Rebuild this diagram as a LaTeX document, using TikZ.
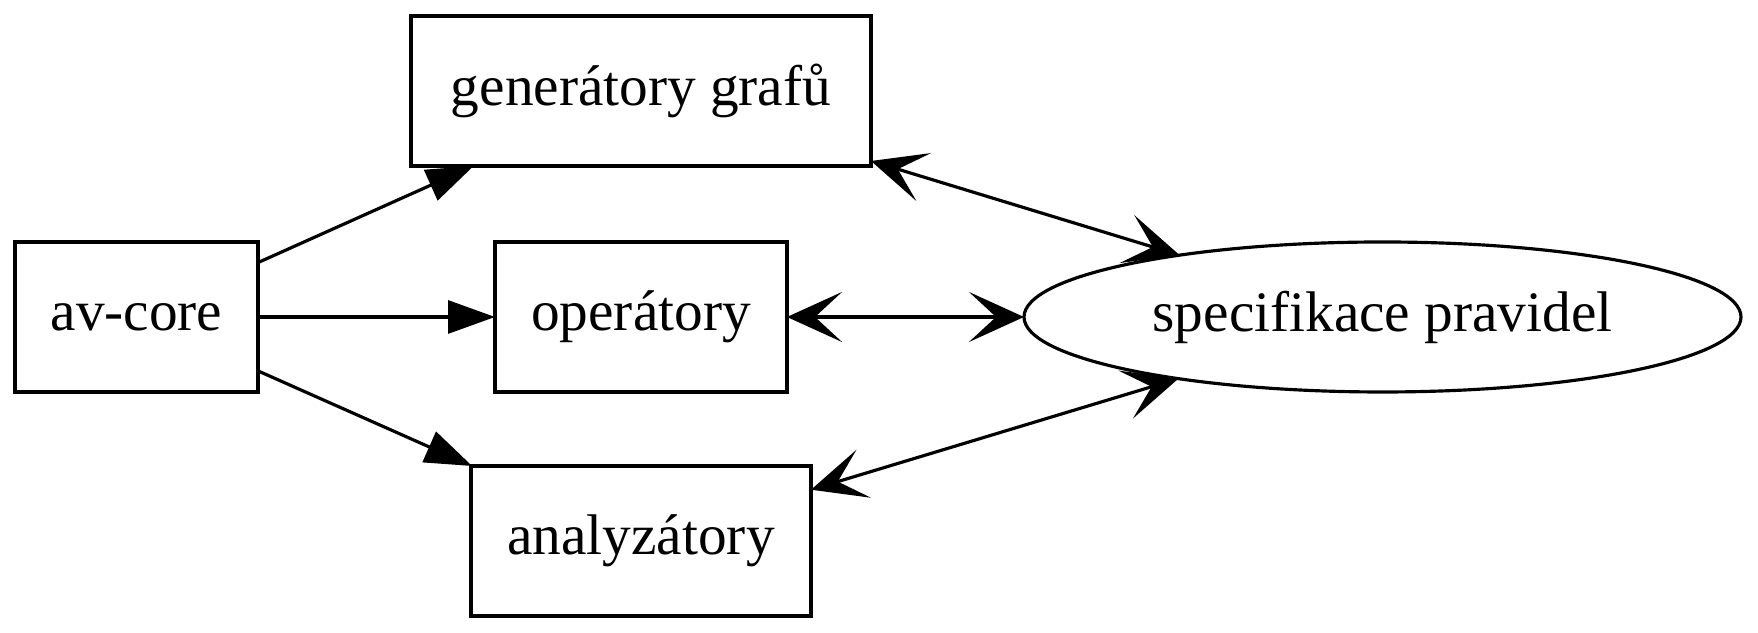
\documentclass[tikz,border=0pt]{standalone}
\usepackage{fontspec}
\setmainfont{Liberation Serif}
\usepackage{tikz}
\usetikzlibrary{arrows.meta, positioning, shapes.geometric}

\begin{document}
\begin{tikzpicture}[
    box/.style={draw, line width=0.9pt, minimum height=1.5cm, inner sep=0pt, outer sep=0pt,
                align=center, font=\fontsize{16.3}{19}\selectfont},
    spec/.style={box, ellipse},
    arrow/.style={-{Triangle[length=4.7mm, width=3.3mm]}, line width=0.9pt},
    both/.style={{Stealth[length=5.5mm, width=5mm, inset=2.7mm]}-{Stealth[length=5.5mm, width=5mm, inset=2.7mm]},
                 line width=0.9pt}
]
    \useasboundingbox (0,0) rectangle (17.58,6.33);

    % Core
    \node[box, minimum width=2.43cm] (avcore) at (1.365,3.16) {av-core};

    % Middle column
    \node[box, minimum width=2.92cm, right=2.37cm of avcore] (oper) {operátory};
    \node[box, minimum width=4.60cm, above=0.76cm of oper] (gener) {generátory grafů};
    \node[box, minimum width=3.40cm, below=0.74cm of oper] (anal) {analyzátory};

    % Rules
    \node[spec, minimum width=7.17cm, right=2.37cm of oper] (rules) {specifikace pravidel};

    % Arrows
    \draw[arrow] (avcore) -- (gener);
    \draw[arrow] (avcore) -- (oper);
    \draw[arrow] (avcore) -- (anal);
    \draw[both] (gener) -- (rules);
    \draw[both] (oper) -- (rules);
    \draw[both] (anal) -- (rules);
\end{tikzpicture}
\end{document}
